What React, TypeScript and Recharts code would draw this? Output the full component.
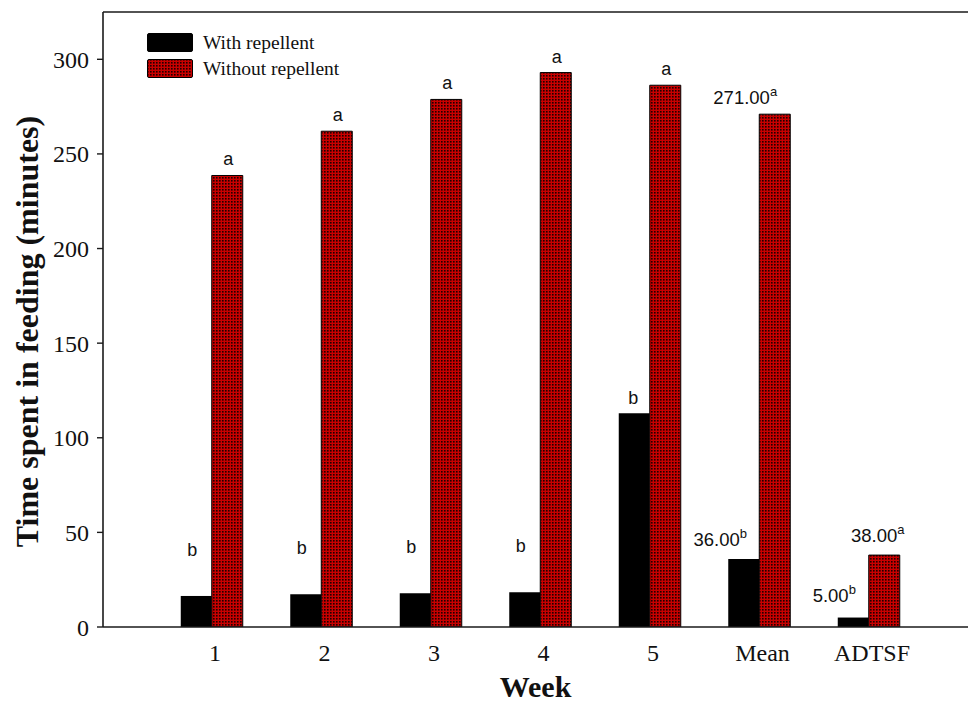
import React from 'react';
import { BarChart, Bar, XAxis, YAxis, ReferenceLine, Legend, LabelList } from 'recharts';

const categories = ['1', '2', '3', '4', '5', 'Mean', 'ADTSF'];
const withRepellent = [16.4, 17.3, 17.8, 18.3, 113, 36, 5];
const withoutRepellent = [238.6, 262, 278.8, 293, 286.3, 271, 38];
const withLetters = ['b', 'b', 'b', 'b', 'b', 'b', 'b'];
const withoutLetters = ['a', 'a', 'a', 'a', 'a', 'a', 'a'];
const withValueText = ['', '', '', '', '', '36.00', '5.00'];
const withoutValueText = ['', '', '', '', '', '271.00', '38.00'];
const yTicks = [0, 50, 100, 150, 200, 250, 300];
const seriesNames = ['With repellent', 'Without repellent'];

const data = categories.map((c, i) => ({
  week: c,
  with: withRepellent[i],
  without: withoutRepellent[i],
}));

const SERIF = '"Liberation Serif", "Times New Roman", serif';
const SANS = '"Liberation Sans", Arial, sans-serif';
const AXIS = '#1a1a1a';

// presentation offsets for annotation labels (dx, gap above bar top)
const withPos = [
  [-4, 40], [-4, 40], [-4, 40], [-4, 40], [-1, 9], [-23.5, 13], [-19, 16],
];
const withoutPos = [
  [1, 10], [1, 10], [1, 10], [1, 10], [1, 10], [-29.5, 10], [-6.5, 12.7],
];

const makeLabel = (texts: string[], letters: string[], pos: number[][]) => (props: any) => {
  const { x, y, width, index } = props;
  const cx = Number(x) + Number(width) / 2 + pos[index][0];
  const by = Number(y) - pos[index][1];
  const main = texts[index];
  if (!main) {
    return (
      <text x={cx} y={by} textAnchor="middle" fontFamily={SANS} fontSize={18} fill="#111">
        {letters[index]}
      </text>
    );
  }
  return (
    <text x={cx} y={by} textAnchor="middle" fontFamily={SANS} fontSize={18.5} fill="#111">
      <tspan>{main}</tspan>
      <tspan dy={-8} fontSize={13}>{letters[index]}</tspan>
    </text>
  );
};

const PatternDefs = ({ id }: { id: string }) => (
  <defs>
    <pattern id={id} width={3} height={3} patternUnits="userSpaceOnUse">
      <rect x={0} y={0} width={3} height={3} fill="#c80000" />
      <rect x={0} y={0} width={1.6} height={1.6} fill="#200000" />
    </pattern>
  </defs>
);

const renderLegend = () => (
  <div style={{ fontFamily: SERIF, fontSize: 19.5, color: '#111', lineHeight: 1 }}>
    {seriesNames.map((name, i) => (
      <div key={name} style={{ display: 'flex', alignItems: 'center', height: 25.5 }}>
        <svg width={46} height={19} style={{ display: 'block' }}>
          <PatternDefs id="legPat" />
          <rect
            x={0.5}
            y={0.5}
            width={45}
            height={18}
            rx={1.5}
            fill={i === 0 ? '#000' : 'url(#legPat)'}
            stroke="#000"
            strokeWidth={1}
          />
        </svg>
        <span style={{ marginLeft: 10 }}>{name}</span>
      </div>
    ))}
  </div>
);

const yLabel = (props: any) => {
  const vb = props.viewBox;
  const x = vb.x + 27;
  const y = vb.y + vb.height / 2 + 12;
  return (
    <text
      x={x}
      y={y}
      transform={`rotate(-90 ${x} ${y})`}
      textAnchor="middle"
      dominantBaseline="central"
      fontFamily={SERIF}
      fontWeight="bold"
      fontSize={32}
      fill="#111"
    >
      Time spent in feeding (minutes)
    </text>
  );
};

const xLabel = (props: any) => {
  const vb = props.viewBox;
  return (
    <text
      x={vb.x + vb.width / 2}
      y={697}
      textAnchor="middle"
      fontFamily={SERIF}
      fontWeight="bold"
      fontSize={30}
      fill="#111"
    >
      Week
    </text>
  );
};

export default function App() {
  return (
    <div style={{ position: 'absolute', left: 0, top: 0, width: 968, height: 709, overflow: 'hidden', background: '#fff' }}>
      <BarChart
        width={968}
        height={709}
        data={data}
        margin={{ top: 12, right: 0, bottom: 0, left: 0 }}
        barGap={0}
      >
        <PatternDefs id="redPat" />
        <XAxis
          dataKey="week"
          height={82}
          padding={{ left: 53.75, right: 44.75 }}
          tickLine={false}
          tickSize={0}
          tickMargin={17}
          axisLine={{ stroke: AXIS, strokeWidth: 1.6 }}
          tick={{ fontFamily: SERIF, fontSize: 24, fill: '#111', dx: 3.5 }}
          interval={0}
          label={xLabel}
        />
        <YAxis
          width={103}
          domain={[0, 325]}
          ticks={yTicks}
          allowDataOverflow
          tickSize={6}
          tickMargin={8}
          axisLine={{ stroke: AXIS, strokeWidth: 1.6 }}
          tickLine={{ stroke: AXIS, strokeWidth: 1.4 }}
          tick={{ fontFamily: SERIF, fontSize: 24, fill: '#111' }}
          label={yLabel}
        />
        <ReferenceLine y={325} stroke={AXIS} strokeWidth={1.6} />
        <Legend
          layout="vertical"
          align="center"
          verticalAlign="middle"
          wrapperStyle={{ left: 147, top: 30, width: 'auto' }}
          content={renderLegend}
        />
        <Bar dataKey="with" name={seriesNames[0]} fill="#000" barSize={31} isAnimationActive={false}>
          <LabelList dataKey="with" content={makeLabel(withValueText, withLetters, withPos)} />
        </Bar>
        <Bar
          dataKey="without"
          name={seriesNames[1]}
          fill="url(#redPat)"
          stroke="#000"
          strokeWidth={1}
          barSize={31}
          isAnimationActive={false}
        >
          <LabelList dataKey="without" content={makeLabel(withoutValueText, withoutLetters, withoutPos)} />
        </Bar>
      </BarChart>
    </div>
  );
}
